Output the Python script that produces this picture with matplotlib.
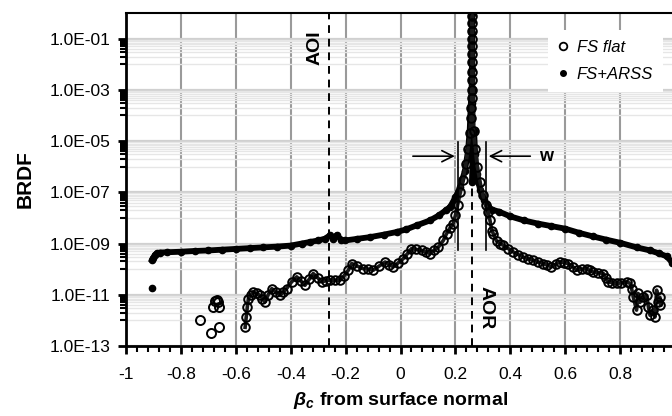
import numpy as np
import matplotlib
matplotlib.use('Agg')
import matplotlib.pyplot as plt
from matplotlib.ticker import FixedLocator, FuncFormatter, MultipleLocator

plt.rcParams['font.family'] = ['Liberation Sans', 'DejaVu Sans']
plt.rcParams['mathtext.fontset'] = 'custom'
plt.rcParams['mathtext.it'] = 'Liberation Sans:italic:bold'
plt.rcParams['mathtext.rm'] = 'Liberation Sans:bold'

#======================================
#   data
#   (BRDF given as log10 readings)
#======================================
# FS flat, main curve
flat_x = [-0.566, -0.562, -0.558, -0.554, -0.545, -0.536, -0.524, -0.512, -0.503, -0.494,
          -0.482, -0.469, -0.455, -0.439, -0.427, -0.415, -0.397, -0.378, -0.363, -0.348,
          -0.333, -0.318, -0.302, -0.287, -0.272, -0.257, -0.238, -0.220, -0.205, -0.190,
          -0.178, -0.157, -0.136, -0.118, -0.099, -0.078, -0.056, -0.041, -0.026, -0.008,
          0.010, 0.025, 0.040, 0.058, 0.077, 0.092, 0.107, 0.122, 0.138, 0.156,
          0.168, 0.180, 0.192, 0.200, 0.208, 0.218, 0.228, 0.238, 0.246, 0.252,
          0.257, 0.258, 0.259, 0.259, 0.260, 0.260, 0.260, 0.261, 0.261, 0.261,
          0.261, 0.261, 0.262,
          0.266, 0.272, 0.280, 0.290, 0.300, 0.310, 0.320, 0.326, 0.333, 0.338,
          0.350, 0.362, 0.375, 0.393, 0.411, 0.429, 0.447, 0.466, 0.484, 0.502,
          0.520, 0.535, 0.550, 0.566, 0.581, 0.596, 0.611, 0.627, 0.642, 0.660,
          0.678, 0.690, 0.702, 0.720, 0.739, 0.748, 0.757, 0.772, 0.787, 0.805,
          0.824, 0.836, 0.842, 0.848, 0.860, 0.866, 0.872, 0.885, 0.897, 0.903,
          0.909, 0.920, 0.927, 0.933, 0.939, 0.945, 0.947]
flat_log = [-12.27, -11.87, -11.47, -11.15, -11.00, -10.89, -10.95, -11.02, -11.15, -11.28,
            -11.00, -10.76, -10.88, -11.02, -10.90, -10.76, -10.50, -10.30, -10.46, -10.63,
            -10.40, -10.17, -10.33, -10.50, -10.45, -10.43, -10.43, -10.43, -10.25, -10.04,
            -9.78, -9.88, -9.98, -10.00, -10.04, -9.88, -9.72, -9.82, -9.91, -9.75,
            -9.59, -9.40, -9.20, -9.23, -9.27, -9.33, -9.39, -9.27, -9.14, -8.88,
            -8.61, -8.40, -8.22, -7.90, -7.50, -7.00, -6.50, -5.90, -5.30, -4.70,
            -4.10, -3.70, -3.30, -3.00, -2.60, -2.30, -1.90, -1.60, -1.30, -1.00,
            -0.70, -0.40, -0.10,
            -4.60, -5.30, -6.00, -6.60, -7.10, -7.50, -7.78, -8.10, -8.50, -8.61,
            -8.90, -9.00, -9.07, -9.20, -9.33, -9.43, -9.53, -9.60, -9.65, -9.72,
            -9.78, -9.85, -9.91, -9.80, -9.72, -9.75, -9.78, -9.90, -10.04, -10.00,
            -9.98, -10.05, -10.11, -10.14, -10.17, -10.35, -10.50, -10.53, -10.56, -10.53,
            -10.50, -10.55, -10.76, -11.09, -11.60, -10.95, -11.30, -11.09, -11.02, -11.47,
            -11.80, -11.60, -11.87, -10.82, -11.28, -11.10, -11.40]
# FS flat, isolated points on the left
flat_iso_x = [-0.730, -0.690, -0.683, -0.676, -0.670, -0.665, -0.660, -0.662]
flat_iso_log = [-11.99, -12.50, -11.49, -11.25, -11.21, -11.30, -11.49, -12.27]

# FS+ARSS
arss_x = [-0.905, -0.900, -0.895, -0.888, -0.875, -0.850, -0.800, -0.750, -0.700, -0.650,
          -0.600, -0.550, -0.500, -0.450, -0.400, -0.360, -0.330, -0.300, -0.275, -0.257,
          -0.245, -0.233, -0.215, -0.202, -0.160, -0.111, -0.060, -0.014, 0.020, 0.059,
          0.107, 0.140, 0.165, 0.180, 0.200, 0.217, 0.235, 0.246, 0.252, 0.256,
          0.259, 0.260, 0.260, 0.260, 0.261, 0.261, 0.262, 0.262, 0.262,
          0.268, 0.272, 0.278, 0.290, 0.305, 0.320, 0.335, 0.360, 0.400, 0.450,
          0.500, 0.550, 0.600, 0.650, 0.700, 0.750, 0.800, 0.860, 0.909, 0.940,
          0.970, 0.990, 1.000]
arss_log = [-9.65, -9.55, -9.45, -9.38, -9.35, -9.34, -9.32, -9.29, -9.27, -9.24,
            -9.21, -9.18, -9.15, -9.12, -9.08, -9.00, -8.94, -8.88, -8.81, -8.68,
            -8.81, -8.68, -8.85, -8.88, -8.82, -8.75, -8.65, -8.55, -8.45, -8.29,
            -8.10, -7.90, -7.70, -7.58, -7.20, -6.80, -6.15, -5.37, -4.60, -3.60,
            -3.00, -2.20, -1.50, -0.80, -0.30, -0.03, -3.50, -5.50, -6.60,
            -4.60, -5.50, -6.30, -6.90, -7.30, -7.58, -7.68, -7.76, -7.94, -8.10,
            -8.22, -8.32, -8.42, -8.58, -8.72, -8.85, -8.97, -9.15, -9.27, -9.38,
            -9.50, -9.75, -9.85]
arss_iso_x = [-0.905]
arss_iso_log = [-10.75]

# annotation positions
aoi_x = -0.259
aor_x = 0.260
w_left, w_right = 0.208, 0.311

y_major = [1e-13, 1e-11, 1e-9, 1e-7, 1e-5, 1e-3, 1e-1]
y_minor = [k * 10.0**n for n in range(-12, -1, 2) for k in range(1, 10)]

#======================================
#   figure
#======================================
fig = plt.figure(figsize=(6.72, 4.16), dpi=100)
ax = fig.add_axes([126/672, 70/416, 549/672, 333/416])
ax.set_yscale('log')
ax.set_xlim(-1, 1)
ax.set_ylim(1e-13, 1e0)

ax.yaxis.set_major_locator(FixedLocator(y_major))
ax.yaxis.set_minor_locator(FixedLocator(y_minor))
ax.yaxis.set_major_formatter(FuncFormatter(lambda v, p: '%.1E' % v))
ax.yaxis.set_minor_formatter(FuncFormatter(lambda v, p: ''))
ax.xaxis.set_major_locator(MultipleLocator(0.2))
ax.xaxis.set_minor_locator(MultipleLocator(0.04))
ax.xaxis.set_major_formatter(FuncFormatter(lambda v, p: '%g' % round(v, 2) if abs(v) > 1e-9 else '0'))

ax.grid(True, which='major', axis='y', color='#d0d0d0', lw=1.6)
ax.grid(True, which='minor', axis='y', color='#e6e6e6', lw=1.0)
ax.grid(True, which='major', axis='x', color='#9a9a9a', lw=1.5)
ax.set_axisbelow(True)

for s in ['left', 'bottom']:
    ax.spines[s].set_linewidth(2.0)
ax.spines['top'].set_linewidth(1.5)
ax.spines['right'].set_linewidth(1.5)

ax.tick_params(axis='both', which='major', labelsize=12.5, direction='out', width=2, length=6, color='black')
ax.tick_params(axis='both', which='minor', direction='out', width=1.5, length=4, color='black')
ax.tick_params(axis='x', which='major', pad=9)
ax.tick_params(axis='y', which='major', pad=5)

# data
ax.plot(arss_x, 10.0**np.array(arss_log), '-', color='black', lw=4.2, marker='o', ms=4.5, zorder=3)
ax.plot(arss_iso_x, 10.0**np.array(arss_iso_log), 'o', color='black', ms=4.5, zorder=3)
ax.plot(flat_x, 10.0**np.array(flat_log), '-', color='#1a1a1a', lw=2.6, marker='o', ms=6.2,
        mfc='none', mec='black', mew=1.4, zorder=4)
ax.plot(flat_iso_x, 10.0**np.array(flat_iso_log), 'o', ms=6.5, mfc='none', mec='black', mew=1.4, zorder=4)

# annotation lines and texts
ax.plot([aoi_x, aoi_x], [1e-13, 1e0], color='black', lw=1.4, ls=(0, (4, 3)), zorder=5)
ax.plot([aor_x, aor_x], [1e-13, 10**-6.6], color='black', lw=1.4, ls=(0, (4, 3)), zorder=5)
ax.text(-0.311, 10**-1.35, 'AOI', rotation=90, ha='center', va='center',
        fontsize=14, fontweight='bold')
ax.text(0.310, 10**-11.49, 'AOR', rotation=270, ha='center', va='center',
        fontsize=14, fontweight='bold')
ax.plot([w_left, w_left], [10**-5.04, 10**-9.27], color='black', lw=1.2, zorder=5)
ax.plot([w_right, w_right], [10**-5.04, 10**-9.27], color='black', lw=1.2, zorder=5)
y_arrow = 10**-5.59
ax.annotate('', xy=(w_left, y_arrow), xytext=(0.035, y_arrow),
            arrowprops=dict(arrowstyle='->', color='black', lw=1.2, mutation_scale=20))
ax.annotate('', xy=(w_right, y_arrow), xytext=(0.483, y_arrow),
            arrowprops=dict(arrowstyle='->', color='black', lw=1.2, mutation_scale=20))
ax.text(0.505, y_arrow, 'w', ha='left', va='center', fontsize=13, fontweight='bold')

# legend
h1, = ax.plot([], [], 'o', ms=5.5, mfc='white', mec='black', mew=1.3)
h2, = ax.plot([], [], 'o', ms=4, color='black')
leg = ax.legend([h1, h2], ['FS flat', 'FS+ARSS'], loc='upper left',
                bbox_to_anchor=(0.754, 0.975), frameon=True, fancybox=False,
                edgecolor='none', facecolor='white', framealpha=1,
                handlelength=0.6, handletextpad=0.5, labelspacing=0.75,
                prop={'size': 12, 'style': 'italic'}, borderpad=0.6)

ax.set_ylabel('BRDF', fontsize=15, fontweight='bold', labelpad=11)
ax.set_xlabel(r'$\beta_c$ from surface normal', fontsize=14, fontweight='bold', labelpad=6)

fig.savefig('out.png', dpi=100)
